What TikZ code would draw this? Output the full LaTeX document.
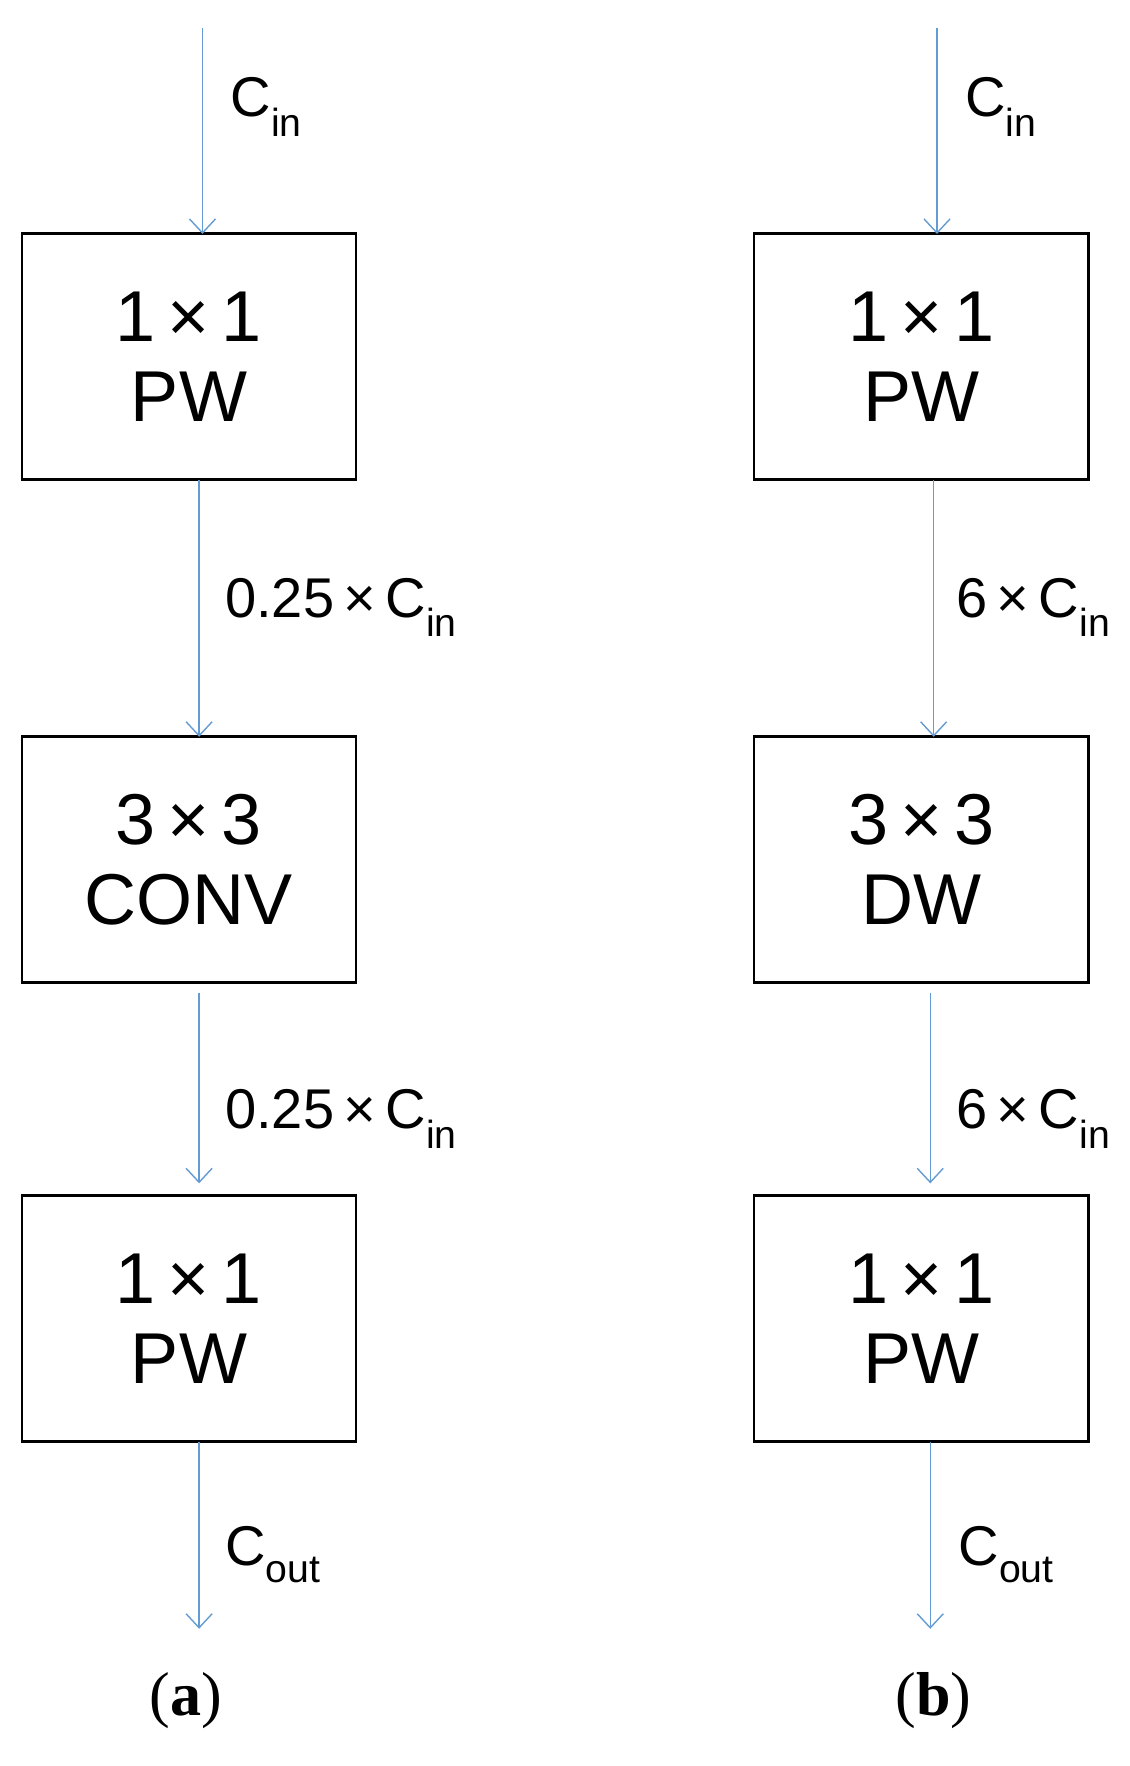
\documentclass[tikz,border=0pt]{standalone}
\usepackage{fontspec}
\setmainfont{Liberation Sans}
\newfontfamily\serifb{Liberation Serif}
\usetikzlibrary{arrows.meta}
\definecolor{ab}{RGB}{100,155,210}
\begin{document}
\begin{tikzpicture}[x=1.1245pt,y=-1.1245pt,
  box/.style={draw,line width=2.5pt,minimum width=334pt,minimum height=246pt,align=center,font=\fontsize{72}{80}\selectfont,inner sep=0pt},
  arr/.style={draw=ab,line width=1.4pt,-{Straight Barb[length=14pt,width=26pt,line width=1.4pt]}},
  lab/.style={anchor=west,font=\fontsize{56}{60}\selectfont,inner sep=0pt}]
\useasboundingbox (0,0) rectangle (1004,1570);
% left column
\node[box] (a1) at (168,317) {1\,×\,1\\PW};
\node[box] (a2) at (168,764) {3\,×\,3\\CONV};
\node[box] (a3) at (168,1172) {1\,×\,1\\PW};
\coordinate (a0) at (180,25);
\coordinate (a4) at (177,1448);
\draw[arr] (a0) -- (180,208);
\draw[arr] (177,427) -- (177,655);
\draw[arr] (177,883) -- (177,1052);
\draw[arr] (177,1282) -- (a4);
\node[lab] (l1) at (205,95) {C\textsubscript{in}};
\node[lab] (l2) at (200,540) {0.25\,×\,C\textsubscript{in}};
\node[lab] (l3) at (200,995) {0.25\,×\,C\textsubscript{in}};
\node[lab] (l4) at (200,1382) {C\textsubscript{out}};
\node[font=\serifb\fontsize{62}{66}\selectfont] (ta) at (165,1512) {(\textbf{a})};
% right column
\node[box] (b1) at (819,317) {1\,×\,1\\PW};
\node[box] (b2) at (819,764) {3\,×\,3\\DW};
\node[box] (b3) at (819,1172) {1\,×\,1\\PW};
\coordinate (b0) at (833,25);
\coordinate (b4) at (827,1448);
\draw[arr] (b0) -- (833,208);
\draw[arr] (830,427) -- (830,655);
\draw[arr] (827,883) -- (827,1052);
\draw[arr] (827,1282) -- (b4);
\node[lab] (m1) at (858,95) {C\textsubscript{in}};
\node[lab] (m2) at (850,540) {6\,×\,C\textsubscript{in}};
\node[lab] (m3) at (850,995) {6\,×\,C\textsubscript{in}};
\node[lab] (m4) at (852,1382) {C\textsubscript{out}};
\node[font=\serifb\fontsize{62}{66}\selectfont] (tb) at (830,1512) {(\textbf{b})};
\end{tikzpicture}
\end{document}
